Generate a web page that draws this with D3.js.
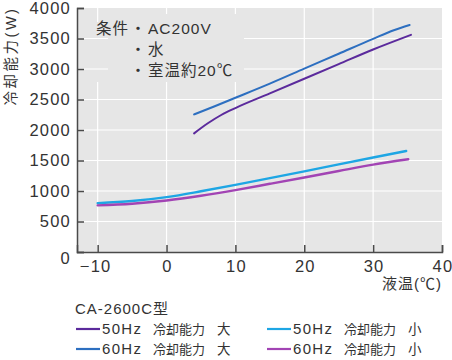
<!DOCTYPE html>
<html>
<head>
<meta charset="utf-8">
<script src="https://cdn.jsdelivr.net/npm/d3@7"></script>
<style>
  html, body { margin: 0; padding: 0; background: #ffffff; }
  svg { display: block; }
  .lat { font-family: "Liberation Sans", Arial, "Noto Sans CJK JP", sans-serif; }
</style>
</head>
<body>
<div id="chart"></div>
<script>
// ---- data ----
const xTicks = [-10, 0, 10, 20, 30, 40];
const yTicks = [0, 500, 1000, 1500, 2000, 2500, 3000, 3500, 4000];
const xTickLabels = ["\u221210", "0", "10", "20", "30", "40"];

const temp50Large = [4, 6, 8, 10, 15, 20, 25, 30, 35.5];
const cap50Large  = [1945, 2110, 2250, 2360, 2600, 2840, 3080, 3320, 3560];

const temp60Large = [4, 7, 10, 15, 20, 25, 30, 33, 35.3];
const cap60Large  = [2255, 2390, 2528, 2760, 3005, 3250, 3495, 3635, 3720];

const temp50Small = [-10, -5, 0, 5, 10, 15, 20, 25, 30, 34.8];
const cap50Small  = [800, 835, 900, 995, 1100, 1210, 1322, 1437, 1550, 1656];

const temp60Small = [-10, -5, 0, 5, 10, 15, 20, 25, 30, 35.1];
const cap60Small  = [765, 792, 845, 922, 1015, 1118, 1222, 1328, 1432, 1520];

const seriesNames  = ["50Hz 冷却能力 大", "60Hz 冷却能力 大", "50Hz 冷却能力 小", "60Hz 冷却能力 小"];
const seriesHz     = ["50Hz", "60Hz", "50Hz", "60Hz"];
const seriesSize   = ["大", "大", "小", "小"];
const seriesColors = ["#5b2a9c", "#2d6fc0", "#1ea6e4", "#a244b4"];

const modelName = "CA-2600C型";
const conditionTitle = "条件";
const conditions = ["AC200V", "水", "室温約20℃"];
const yTitle = "冷却能力(W)";
const xTitle = "液温(℃)";

// ---- layout ----
const W = 452, H = 360;
const svg = d3.select("#chart").append("svg").attr("width", W).attr("height", H);

const x = d3.scaleLinear().domain([-13, 40]).range([77, 442]);
const y = d3.scaleLinear().domain([0, 4000]).range([252, 8]);

const plotBg = "#e6e6e6";
const axisColor = "#4a4a4a";

// plot background
svg.append("rect")
  .attr("x", x(-13)).attr("y", y(4000))
  .attr("width", x(40) - x(-13)).attr("height", y(0) - y(4000))
  .attr("fill", plotBg);

// vertical gridlines
svg.append("g").selectAll("line").data(xTicks.filter(d => d < 40)).join("line")
  .attr("x1", d => x(d)).attr("x2", d => x(d))
  .attr("y1", y(4000)).attr("y2", y(0))
  .attr("stroke", "#ffffff").attr("stroke-width", 1.2);

// small mask over the -10 vertical gridline near the note
svg.append("rect").attr("x", x(-10) - 3).attr("y", 22).attr("width", 6).attr("height", 60).attr("fill", plotBg);

// horizontal gridlines
svg.append("g").selectAll("line").data(yTicks.filter(d => d > 0 && d < 4000)).join("line")
  .attr("x1", x(-13)).attr("x2", x(40))
  .attr("y1", d => y(d)).attr("y2", d => y(d))
  .attr("stroke", "#ffffff").attr("stroke-width", 1.2);

// mask behind the conditions note
svg.append("rect").attr("x", 108).attr("y", 14).attr("width", 136).attr("height", 68).attr("fill", plotBg);

// axes
const xAxis = d3.axisBottom(x).tickValues(xTicks).tickSize(-7).tickFormat("");
const gx = svg.append("g").attr("transform", `translate(0,${y(0)})`).call(xAxis);
gx.select(".domain").attr("stroke", axisColor).attr("stroke-width", 1.5);
gx.selectAll(".tick line").attr("stroke", axisColor).attr("stroke-width", 1.5);

const yAxis = d3.axisLeft(y).tickValues(yTicks).tickSize(-7).tickFormat("");
const gy = svg.append("g").attr("transform", `translate(${x(-13)},0)`).call(yAxis);
gy.select(".domain").attr("stroke", axisColor).attr("stroke-width", 1.5);
gy.selectAll(".tick line").attr("stroke", axisColor).attr("stroke-width", 1.5);

// tick labels
svg.append("g").selectAll("text").data(yTicks).join("text")
  .attr("class", "lat")
  .attr("x", 71)
  .attr("y", d => y(d) + (d === 0 ? 6 : 0))
  .attr("dy", "0.36em")
  .attr("text-anchor", "end")
  .attr("font-size", 16.5).attr("letter-spacing", "1.2px")
  .attr("fill", "#333")
  .text(d => d);

svg.append("g").selectAll("text").data(xTicks).join("text")
  .attr("class", "lat")
  .attr("x", (d, i) => x(d) + (i === 0 ? -2 : 1))
  .attr("y", 272)
  .attr("text-anchor", "middle")
  .attr("font-size", 16.5).attr("letter-spacing", "1.2px")
  .attr("fill", "#333")
  .text((d, i) => xTickLabels[i]);

// axis titles
svg.append("text")
  .attr("class", "lat")
  .attr("transform", "translate(16,56) rotate(-90)")
  .attr("text-anchor", "middle")
  .attr("font-size", 14.5).attr("letter-spacing", "2.5px")
  .attr("fill", "#333")
  .text(yTitle);

svg.append("text")
  .attr("class", "lat")
  .attr("x", 442).attr("y", 289)
  .attr("text-anchor", "end")
  .attr("font-size", 15).attr("letter-spacing", "1px")
  .attr("fill", "#333")
  .text(xTitle);

// conditions note
const noteY = [34, 55, 76];
svg.append("text").attr("class", "lat").attr("x", 96).attr("y", noteY[0])
  .attr("font-size", 15.5).attr("letter-spacing", "1px").attr("fill", "#333").text(conditionTitle);
svg.append("g").selectAll("text").data(conditions).join("text")
  .attr("class", "lat")
  .attr("x", 148).attr("y", (d, i) => noteY[i])
  .attr("font-size", 15.5).attr("letter-spacing", "1px").attr("fill", "#333")
  .text(d => d);
svg.append("g").selectAll("text").data(conditions).join("text")
  .attr("class", "lat")
  .attr("x", 138).attr("y", (d, i) => noteY[i])
  .attr("text-anchor", "middle")
  .attr("font-size", 15.5).attr("fill", "#333")
  .text("・");

// lines
const series = [
  { t: temp50Large, v: cap50Large },
  { t: temp60Large, v: cap60Large },
  { t: temp50Small, v: cap50Small },
  { t: temp60Small, v: cap60Small }
];
const line = d3.line().x(d => x(d[0])).y(d => y(d[1])).curve(d3.curveMonotoneX);
svg.append("g").selectAll("path").data(series).join("path")
  .attr("d", s => line(s.t.map((t, i) => [t, s.v[i]])))
  .attr("fill", "none")
  .attr("stroke", (s, i) => seriesColors[i])
  .attr("stroke-width", (s, i) => i < 2 ? 2 : 2.4)
  .attr("stroke-linecap", "round");

// legend
svg.append("text").attr("class", "lat").attr("x", 75).attr("y", 314)
  .attr("font-size", 15).attr("letter-spacing", "1px").attr("fill", "#333").text(modelName);

const legendPos = [[76, 334], [76, 354], [267, 334], [267, 354]];
const lg = svg.append("g").selectAll("g").data(seriesNames).join("g")
  .attr("transform", (d, i) => `translate(${legendPos[i][0]},${legendPos[i][1]})`);
lg.append("line").attr("x1", 0).attr("x2", 24).attr("y1", -5).attr("y2", -5)
  .attr("stroke", (d, i) => seriesColors[i]).attr("stroke-width", 2.2);
const lt = lg.append("text").attr("class", "lat").attr("fill", "#333");
lt.append("tspan").attr("x", 26).attr("font-size", 15).attr("letter-spacing", "1.3px").text((d, i) => seriesHz[i]);
lt.append("tspan").attr("x", 77).attr("font-size", 13).text("冷却能力");
lt.append("tspan").attr("x", 141).attr("font-size", 13.5).text((d, i) => seriesSize[i]);
</script>
</body>
</html>
